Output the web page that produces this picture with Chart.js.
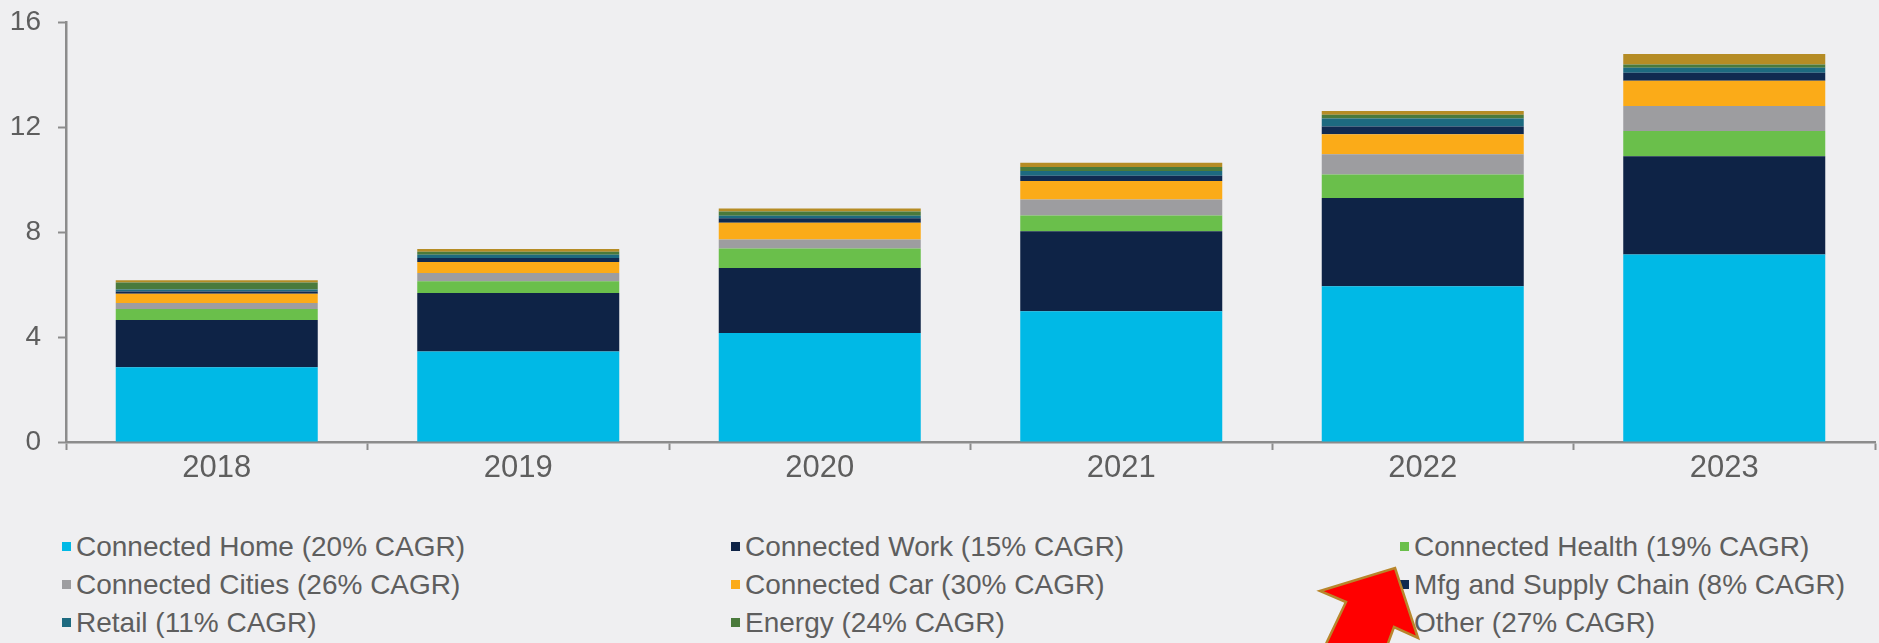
<!DOCTYPE html>
<html>
<head>
<meta charset="utf-8">
<script src="https://cdn.jsdelivr.net/npm/chart.js@4.4.1/dist/chart.umd.min.js"></script>
<style>
  html, body { margin: 0; padding: 0; background: #efeff1; }
  #wrap { position: relative; width: 1879px; height: 643px; overflow: hidden; background: #efeff1; }
  #chart { position: absolute; left: 0; top: 0; }
  .leg { position: absolute; font-family: "Liberation Sans", Arial, sans-serif; font-size: 28px;
         color: #5e5e5e; white-space: nowrap; line-height: 34px; }
  .leg i { display: inline-block; width: 9px; height: 9px; margin-right: 5px; vertical-align: middle;
           position: relative; top: -2px; }
  #arrow { position: absolute; left: 0; top: 0; }
</style>
</head>
<body>
<div id="wrap">
  <canvas id="chart" width="1879" height="500"></canvas>
  <div id="legend"></div>
  <svg id="arrow" width="1879" height="643">
    <polygon points="1395,568 1418,638 1394,627 1387,646 1325,646 1346,602 1320,591"
             fill="#ff0000" stroke="#b8862b" stroke-width="2.5" stroke-linejoin="miter"/>
  </svg>
</div>
<script>
'use strict';

// ─── Data (billions of devices) ──────────────────────────────────────────────
const years = ['2018', '2019', '2020', '2021', '2022', '2023'];

const connectedHome   = [2.85, 3.45, 4.15, 4.98, 5.93, 7.14];
const connectedWork   = [1.80, 2.23, 2.48, 3.05, 3.37, 3.75];
const connectedHealth = [0.42, 0.44, 0.74, 0.60, 0.89, 0.96];
const connectedCities = [0.23, 0.32, 0.34, 0.61, 0.77, 0.95];
const connectedCar    = [0.35, 0.42, 0.64, 0.70, 0.76, 0.96];
const mfgSupplyChain  = [0.08, 0.15, 0.17, 0.20, 0.30, 0.31];
const retail          = [0.08, 0.12, 0.10, 0.18, 0.30, 0.19];
const energy          = [0.27, 0.12, 0.16, 0.16, 0.15, 0.12];
const other           = [0.08, 0.10, 0.12, 0.16, 0.14, 0.40];

const yTicks = [0, 4, 8, 12, 16];

// Stack order bottom → top, and legend order (row-wise, 3 columns)
const seriesLabels = [
  'Connected Home (20% CAGR)',
  'Connected Work (15% CAGR)',
  'Connected Health (19% CAGR)',
  'Connected Cities (26% CAGR)',
  'Connected Car (30% CAGR)',
  'Mfg and Supply Chain (8% CAGR)',
  'Retail (11% CAGR)',
  'Energy (24% CAGR)',
  'Other (27% CAGR)',
];
const seriesValues = [
  connectedHome, connectedWork, connectedHealth, connectedCities, connectedCar,
  mfgSupplyChain, retail, energy, other,
];
const seriesColors = [
  '#00b9e6', '#0e2346', '#6abf4b', '#9d9da0', '#fbab18',
  '#102a50', '#1d6a80', '#4a7a3c', '#b58c25',
];

// ─── Chart ────────────────────────────────────────────────────────────────────
const AXIS = '#8c8c8c';
const TEXT = '#5e5e5e';

const datasets = seriesLabels.map((label, i) => ({
  label,
  data:            seriesValues[i],
  backgroundColor: seriesColors[i],
  borderWidth:     0,
  barPercentage:   0.67,
  categoryPercentage: 1,
}));

new Chart(document.getElementById('chart').getContext('2d'), {
  type: 'bar',
  data: { labels: years, datasets },
  options: {
    responsive: false,
    animation:  false,
    devicePixelRatio: 1,
    layout: { padding: { top: 22, right: 4, left: 0, bottom: 0 } },
    plugins: {
      legend:  { display: false },
      tooltip: { enabled: false },
    },
    scales: {
      x: {
        stacked: true,
        afterFit: (scale) => {
          scale.height = 58;
          scale.paddingLeft = 0;
          scale.paddingRight = 0;
        },
        grid: {
          drawOnChartArea: false,
          offset: true,
          tickLength: 8,
          tickWidth: 2,
          tickColor: AXIS,
        },
        border: { color: AXIS, width: 2.5 },
        ticks: {
          color: TEXT,
          padding: 0,
          font: { family: '"Liberation Sans", Arial, sans-serif', size: 31 },
        },
      },
      y: {
        stacked: true,
        min: 0,
        max: 16,
        afterFit: (scale) => {
          // fixed axis width; drop the label-overflow padding so the plot top sits at 16
          scale.width = 66;
          scale.paddingTop = 0;
          scale.paddingBottom = 0;
        },
        afterBuildTicks: (scale) => { scale.ticks = yTicks.map((v) => ({ value: v })); },
        grid: {
          drawOnChartArea: false,
          tickLength: 8,
          tickWidth: 2,
          tickColor: AXIS,
        },
        border: { color: AXIS, width: 2.5 },
        ticks: {
          color: TEXT,
          padding: 17,
          font: { family: '"Liberation Sans", Arial, sans-serif', size: 28 },
        },
      },
    },
  },
});

// ─── HTML legend (3 columns, filled row by row) ──────────────────────────────
const legendCols = [62, 731, 1400];
const legendRows = [530, 568, 606];
const legendEl = document.getElementById('legend');
seriesLabels.forEach((label, i) => {
  const item = document.createElement('div');
  item.className = 'leg';
  item.style.left = legendCols[i % 3] + 'px';
  item.style.top  = legendRows[Math.floor(i / 3)] + 'px';
  const box = document.createElement('i');
  box.style.background = seriesColors[i];
  item.appendChild(box);
  item.appendChild(document.createTextNode(label));
  legendEl.appendChild(item);
});
</script>
</body>
</html>
